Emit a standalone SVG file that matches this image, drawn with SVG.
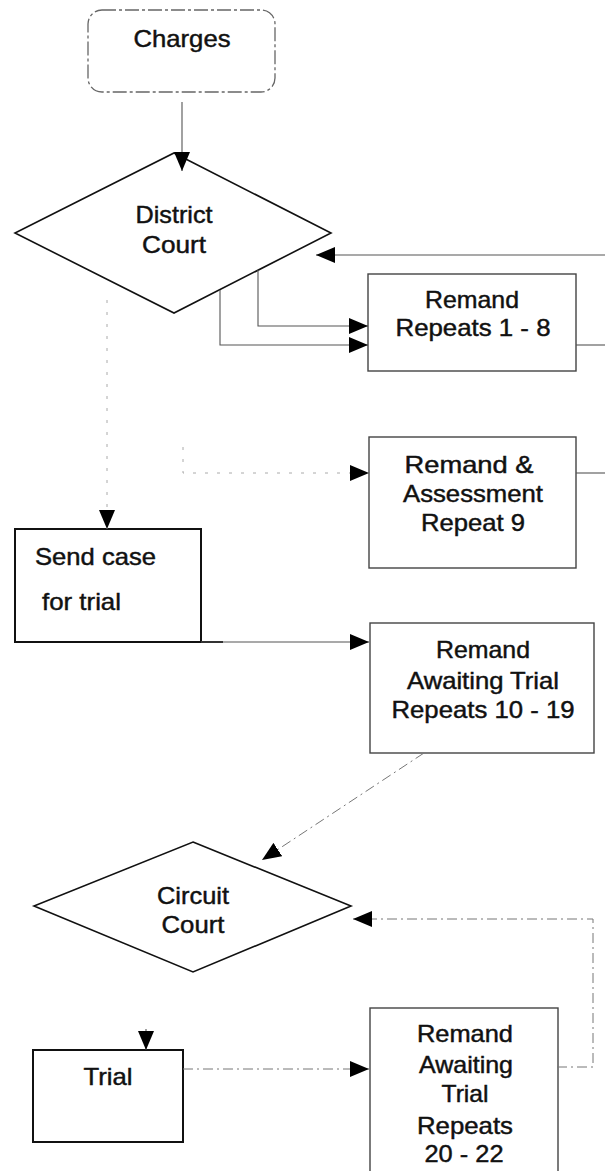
<svg xmlns="http://www.w3.org/2000/svg" width="605" height="1171" viewBox="0 0 605 1171">
  <style>
    .lbl { font-family: "Liberation Sans", Arial, sans-serif; font-size: 24px; fill: #111; stroke: #111; stroke-width: 0.45; text-anchor: middle; }
    .lbl-l { font-family: "Liberation Sans", Arial, sans-serif; font-size: 24px; fill: #111; stroke: #111; stroke-width: 0.45; }
    .diamond { fill: #fff; stroke: #111; stroke-width: 1.6; }
    .box { fill: #fff; stroke: #444; stroke-width: 1.4; }
    .box-dark { fill: #fff; stroke: #111; stroke-width: 2; }
    .start { fill: #fff; stroke: #666; stroke-width: 1.3; stroke-dasharray: 14 3 3 3; }
    .conn { fill: none; stroke: #555; stroke-width: 1.1; marker-end: url(#arrow); }
    .conn-plain { fill: none; stroke: #555; stroke-width: 1.1; }
    .conn-faint { fill: none; stroke: #777; stroke-width: 1; stroke-dasharray: 10 4 2 4; marker-end: url(#arrow); }
    .conn-ghost { fill: none; stroke: #aaa; stroke-width: 1; stroke-dasharray: 3 9; marker-end: url(#arrow); }
  </style>
  <defs>
    <marker id="arrow" viewBox="0 0 19 16" refX="19" refY="8" markerWidth="19" markerHeight="16" markerUnits="userSpaceOnUse" orient="auto">
      <path d="M0,0 L19,8 L0,16 z" fill="#000"/>
    </marker>
  </defs>

  <rect width="605" height="1171" fill="#fff"/>

  <!-- start: charges -->
  <g id="charges">
    <rect class="start" x="88" y="10" width="187" height="82" rx="14"/>
    <text class="lbl" x="182" y="47" textLength="97" lengthAdjust="spacingAndGlyphs">Charges</text>
  </g>

  <!-- decision: district court -->
  <g id="district-court">
    <polygon class="diamond" points="174,153 331,233 174,313 15,233"/>
    <text class="lbl" x="174" y="223" textLength="77" lengthAdjust="spacingAndGlyphs">District</text>
    <text class="lbl" x="174" y="253" textLength="64" lengthAdjust="spacingAndGlyphs">Court</text>
  </g>

  <!-- remand repeats 1-8 -->
  <g id="remand-1-8">
    <rect class="box" x="368" y="274" width="208" height="97"/>
    <text class="lbl" x="472" y="308" textLength="94" lengthAdjust="spacingAndGlyphs">Remand</text>
    <text class="lbl" x="473" y="336" textLength="155" lengthAdjust="spacingAndGlyphs">Repeats 1 - 8</text>
  </g>

  <!-- remand & assessment repeat 9 -->
  <g id="remand-assessment-9">
    <rect class="box" x="369" y="437" width="207" height="131"/>
    <text class="lbl" x="469" y="473" textLength="129" lengthAdjust="spacingAndGlyphs">Remand &amp;</text>
    <text class="lbl" x="473" y="502" textLength="140" lengthAdjust="spacingAndGlyphs">Assessment</text>
    <text class="lbl" x="473" y="531" textLength="104" lengthAdjust="spacingAndGlyphs">Repeat 9</text>
  </g>

  <!-- send case for trial -->
  <g id="send-case">
    <rect class="box-dark" x="15" y="529" width="186" height="113"/>
    <text class="lbl-l" x="35" y="565" textLength="121" lengthAdjust="spacingAndGlyphs">Send case</text>
    <text class="lbl-l" x="42" y="610" textLength="79" lengthAdjust="spacingAndGlyphs">for trial</text>
  </g>

  <!-- remand awaiting trial repeats 10-19 -->
  <g id="remand-awaiting-10-19">
    <rect class="box" x="370" y="623" width="224" height="130"/>
    <text class="lbl" x="483" y="658" textLength="94" lengthAdjust="spacingAndGlyphs">Remand</text>
    <text class="lbl" x="483" y="689" textLength="152" lengthAdjust="spacingAndGlyphs">Awaiting Trial</text>
    <text class="lbl" x="483" y="718" textLength="183" lengthAdjust="spacingAndGlyphs">Repeats 10 - 19</text>
  </g>

  <!-- decision: circuit court -->
  <g id="circuit-court">
    <polygon class="diamond" points="193,842 351,906 193,972 34,906"/>
    <text class="lbl" x="193" y="904" textLength="72" lengthAdjust="spacingAndGlyphs">Circuit</text>
    <text class="lbl" x="193" y="933" textLength="63" lengthAdjust="spacingAndGlyphs">Court</text>
  </g>

  <!-- trial -->
  <g id="trial">
    <rect class="box-dark" x="33" y="1050" width="150" height="92"/>
    <text class="lbl" x="108" y="1085" textLength="49" lengthAdjust="spacingAndGlyphs">Trial</text>
  </g>

  <!-- remand awaiting trial repeats 20-22 -->
  <g id="remand-awaiting-20-22">
    <rect class="box" x="370" y="1008" width="188" height="175"/>
    <text class="lbl" x="465" y="1042" textLength="96" lengthAdjust="spacingAndGlyphs">Remand</text>
    <text class="lbl" x="466" y="1073" textLength="94" lengthAdjust="spacingAndGlyphs">Awaiting</text>
    <text class="lbl" x="465" y="1102" textLength="47" lengthAdjust="spacingAndGlyphs">Trial</text>
    <text class="lbl" x="465" y="1134" textLength="96" lengthAdjust="spacingAndGlyphs">Repeats</text>
    <text class="lbl" x="464" y="1162" textLength="79" lengthAdjust="spacingAndGlyphs">20 - 22</text>
  </g>

  <!-- connectors, drawn last so arrowheads sit on top of the shapes -->
  <g id="connectors">
    <path class="conn" d="M182,102 V171"/>
    <path class="conn" d="M605,255 H316"/>
    <path class="conn" d="M258,270 V326 H368"/>
    <path class="conn" d="M220,290 V345 H368"/>
    <path class="conn-plain" d="M576,345 H605"/>
    <path class="conn-plain" d="M576,473 H605"/>
    <path class="conn-ghost" d="M183,447 V473 H369"/>
    <path class="conn-ghost" d="M107,300 V529"/>
    <path class="conn-plain" d="M201,642 H223" style="stroke:#111;stroke-width:2"/>
    <path class="conn" d="M201,642 H369"/>
    <path class="conn-faint" d="M424,753 L262,860"/>
    <path class="conn-faint" d="M557,1067 H593 V919 H353"/>
    <path class="conn" d="M146,1029 V1050"/>
    <path class="conn-faint" d="M183,1069 H369"/>
  </g>
</svg>
